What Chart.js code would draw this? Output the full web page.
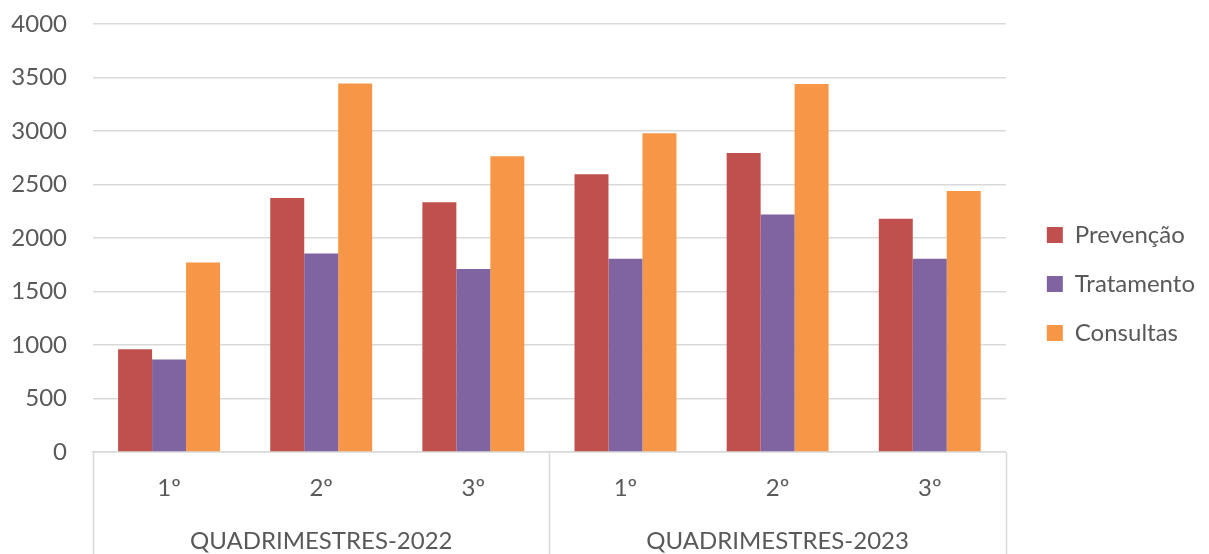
<!DOCTYPE html>
<html>
<head>
<meta charset="utf-8">
<script src="https://cdn.jsdelivr.net/npm/chart.js@4"></script>
<style>
    body { margin: 0; background: #ffffff; }
    #wrap { width: 1209px; height: 554px; }
</style>
</head>
<body>
<div id="wrap"><canvas id="quadChart" width="1209" height="554"></canvas></div>
<script>
const quadLabels = ["1º", "2º", "3º", "1º", "2º", "3º"];
const groupLabels = ["QUADRIMESTRES-2022", "QUADRIMESTRES-2023"];

const prevencao = [960, 2375, 2335, 2595, 2795, 2180];
const tratamento = [865, 1855, 1710, 1805, 2220, 1805];
const consultas = [1770, 3445, 2765, 2980, 3440, 2440];

const textColor = "#595959";
const lineColor = "#d9d9d9";
const font = { family: "Lato, 'Open Sans', sans-serif", size: 24 };
const legendShift = 16;

// vertical separators between the two year groups, under the plot
const groupLines = {
    id: "groupLines",
    afterDraw(chart){
        const x = chart.scales.x;
        const step = x.getPixelForValue(1) - x.getPixelForValue(0);
        const start = x.getPixelForValue(0) - step / 2;
        const ctx = chart.ctx;
        ctx.save();
        ctx.strokeStyle = lineColor;
        ctx.lineWidth = 1.5;
        for(let i = 0; i <= quadLabels.length; i += 3){
            const px = Math.round(start + i * step) + 0.5;
            ctx.beginPath();
            ctx.moveTo(px, chart.chartArea.bottom);
            ctx.lineTo(px, chart.height);
            ctx.stroke();
        }
        ctx.restore();
    }
};

// leave a wider gap between the plot and the legend
const legendGap = {
    id: "legendGap",
    beforeLayout(chart){
        const legend = chart.legend;
        if(legend && !legend._gapWrapped){
            const fit = legend.fit;
            legend.fit = function(){
                fit.call(this);
                this.width += legendShift;
            };
            legend._gapWrapped = true;
        }
    },
    afterLayout(chart){
        if(chart.legend) chart.legend.left += legendShift;
    }
};

new Chart(document.getElementById("quadChart").getContext("2d"), {
    type: "bar",
    data: {
        labels: quadLabels,
        datasets: [
            { label: "Prevenção", data: prevencao, backgroundColor: "#c0504d" },
            { label: "Tratamento", data: tratamento, backgroundColor: "#8064a2" },
            { label: "Consultas", data: consultas, backgroundColor: "#f79646" }
        ]
    },
    options: {
        responsive: false,
        animation: false,
        datasets: {
            bar: { categoryPercentage: 0.67, barPercentage: 1.0 }
        },
        layout: { padding: { top: 14, left: 0, right: 4, bottom: 0 } },
        plugins: {
            legend: {
                position: "right",
                labels: {
                    color: textColor,
                    font: font,
                    boxWidth: 16,
                    boxHeight: 16,
                    padding: 25
                }
            },
            tooltip: { enabled: false }
        },
        scales: {
            y: {
                min: 0,
                max: 4000,
                ticks: {
                    stepSize: 500,
                    color: textColor,
                    font: font,
                    padding: 26,
                    callback: (v) => String(v)
                },
                grid: { color: lineColor, lineWidth: 1.5, drawTicks: false },
                border: { display: false },
                afterFit(scale){
                    scale.width = 93;
                    scale.paddingTop = 24;
                }
            },
            x: {
                ticks: { color: textColor, font: font, padding: 22, maxRotation: 0 },
                grid: { display: false, drawTicks: false },
                border: { display: true, color: lineColor, width: 1.5 },
                afterFit(scale){ scale.height = 53; }
            },
            x2: {
                type: "category",
                position: "bottom",
                weight: 1,
                labels: groupLabels,
                ticks: { color: textColor, font: font, padding: 22, maxRotation: 0 },
                grid: { display: false, drawTicks: false },
                border: { display: false },
                afterFit(scale){ scale.height = 49; }
            }
        }
    },
    plugins: [groupLines, legendGap]
});
</script>
</body>
</html>
